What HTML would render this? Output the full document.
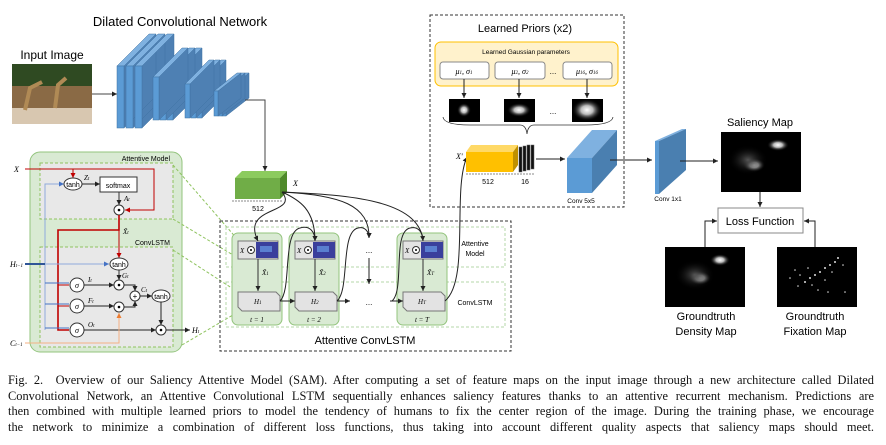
<!DOCTYPE html>
<html><head><meta charset="utf-8"><style>
body{margin:0;background:#fff;width:886px;height:445px;overflow:hidden}
svg{display:block}
.s{font-family:"Liberation Sans","DejaVu Sans",sans-serif}
.i{font-family:"Liberation Serif",serif;font-style:italic}
.cap{position:absolute;left:8px;top:373px;width:866px;font-family:"Liberation Serif",serif;font-size:12.4px;line-height:15.6px;text-align:justify;text-align-last:justify;color:#111}
.cap div{white-space:nowrap}
</style></head><body>
<svg width="886" height="445" viewBox="0 0 886 445">
<defs>
<marker id="a" markerWidth="6" markerHeight="6" refX="5" refY="3" orient="auto"><path d="M0,0.5 L5,3 L0,5.5z" fill="#222"/></marker>
<marker id="ar" markerWidth="6" markerHeight="6" refX="5" refY="3" orient="auto"><path d="M0,0.5 L5,3 L0,5.5z" fill="#c00000"/></marker>
<marker id="ab" markerWidth="6" markerHeight="6" refX="5" refY="3" orient="auto"><path d="M0,0.5 L5,3 L0,5.5z" fill="#4472c4"/></marker>
<marker id="ao" markerWidth="6" markerHeight="6" refX="5" refY="3" orient="auto"><path d="M0,0.5 L5,3 L0,5.5z" fill="#ed7d31"/></marker>
<radialGradient id="g"><stop offset="0" stop-color="#fff"/><stop offset="0.4" stop-color="#bbb"/><stop offset="1" stop-color="#000" stop-opacity="0"/></radialGradient>
<radialGradient id="g2"><stop offset="0" stop-color="#555"/><stop offset="1" stop-color="#000" stop-opacity="0"/></radialGradient>
</defs>

<!-- top left -->
<text x="180" y="26" class="s" font-size="13" text-anchor="middle">Dilated Convolutional Network</text>
<text x="52" y="59" class="s" font-size="12" text-anchor="middle">Input Image</text>
<rect x="12" y="64" width="80" height="60" fill="#6b6a45"/>
<rect x="12" y="64" width="80" height="22" fill="#2f4a22"/>
<rect x="12" y="86" width="80" height="22" fill="#8a6a45"/>
<rect x="12" y="108" width="80" height="16" fill="#d8c7b0"/>
<path d="M25,110 L30,88 L42,82 M55,108 L58,85 L66,78" stroke="#b08a55" stroke-width="4" fill="none"/>
<line x1="92" y1="94" x2="117" y2="94" stroke="#444" marker-end="url(#a)"/>

<g stroke="#3f72a3" stroke-width="0.5">
<g fill="#4e80b3"><polygon points="142,66 174,34 174,96 142,128"/><polygon points="133,66 165,34 165,96 133,128"/><polygon points="124,66 156,34 156,96 124,128"/></g>
<polygon points="135,66 142,66 174,34 167,34" fill="#7fb1e0"/><rect x="135" y="66" width="7" height="62" fill="#5b9bd5"/>
<polygon points="126,66 133,66 165,34 158,34" fill="#7fb1e0"/><rect x="126" y="66" width="7" height="62" fill="#5b9bd5"/>
<polygon points="117,66 124,66 156,34 149,34" fill="#7fb1e0"/><rect x="117" y="66" width="7" height="62" fill="#5b9bd5"/>
<g fill="#4e80b3"><polygon points="173,77 202,48 202,91 173,120"/></g>
<polygon points="167,77 173,77 202,48 196,48" fill="#7fb1e0"/><rect x="167" y="77" width="6" height="43" fill="#5b9bd5"/>
<polygon points="166,77 195,48 195,91 166,120" fill="#4e80b3"/>
<polygon points="160,77 166,77 195,48 189,48" fill="#7fb1e0"/><rect x="160" y="77" width="6" height="43" fill="#5b9bd5"/>
<polygon points="159,77 188,48 188,91 159,120" fill="#4e80b3"/>
<polygon points="153,77 159,77 188,48 182,48" fill="#7fb1e0"/><rect x="153" y="77" width="6" height="43" fill="#5b9bd5"/>
<polygon points="202,84 226,60 226,94 202,118" fill="#4e80b3"/>
<polygon points="197,84 202,84 226,60 221,60" fill="#7fb1e0"/><rect x="197" y="84" width="5" height="34" fill="#5b9bd5"/>
<polygon points="196,84 220,60 220,94 196,118" fill="#4e80b3"/>
<polygon points="191,84 196,84 220,60 215,60" fill="#7fb1e0"/><rect x="191" y="84" width="5" height="34" fill="#5b9bd5"/>
<polygon points="190,84 214,60 214,94 190,118" fill="#4e80b3"/>
<polygon points="185,84 190,84 214,60 209,60" fill="#7fb1e0"/><rect x="185" y="84" width="5" height="34" fill="#5b9bd5"/>
<polygon points="226,91 249,73 249,98 226,116" fill="#4e80b3"/>
<polygon points="222,91 226,91 249,73 245,73" fill="#7fb1e0"/><rect x="222" y="91" width="4" height="25" fill="#5b9bd5"/>
<polygon points="222,91 245,73 245,98 222,116" fill="#4e80b3"/>
<polygon points="218,91 222,91 245,73 241,73" fill="#7fb1e0"/><rect x="218" y="91" width="4" height="25" fill="#5b9bd5"/>
<polygon points="218,91 241,73 241,98 218,116" fill="#4e80b3"/>
<polygon points="214,91 218,91 241,73 237,73" fill="#7fb1e0"/><rect x="214" y="91" width="4" height="25" fill="#5b9bd5"/>
</g>
<polyline points="245,100 265,100 265,171" fill="none" stroke="#444" marker-end="url(#a)"/>

<!-- green feature box -->
<polygon points="235,178 242,171 287,171 280,178" fill="#8ccb5e"/>
<polygon points="280,178 287,171 287,192 280,199" fill="#4f8a2a"/>
<rect x="235" y="178" width="45" height="21" fill="#70ad47"/>
<line x1="232" y1="201" x2="283" y2="201" stroke="#888" stroke-dasharray="2,1"/>
<text x="258" y="211" class="s" font-size="7" text-anchor="middle">512</text>
<text x="293" y="186" class="i" font-size="8">X</text>

<!-- left panel -->
<rect x="30" y="152" width="152" height="200" rx="10" fill="#d9ead3" stroke="#93c47d"/>
<rect x="40" y="163" width="133" height="56" fill="#e8e8e8" stroke="#8fc35f" stroke-dasharray="3,2"/>
<rect x="40" y="247" width="133" height="100" fill="#e8e8e8" stroke="#8fc35f" stroke-dasharray="3,2"/>
<text x="170" y="161" class="s" font-size="7" text-anchor="end">Attentive Model</text>
<text x="170" y="245" class="s" font-size="7" text-anchor="end">ConvLSTM</text>
<g stroke="#8fc35f" stroke-dasharray="3,2" fill="none">
<line x1="173" y1="165" x2="238" y2="240"/><line x1="173" y1="219" x2="238" y2="258"/>
<line x1="173" y1="250" x2="238" y2="292"/><line x1="182" y1="345" x2="238" y2="312"/>
</g>
<text x="14" y="172" class="i" font-size="8">X</text>
<polyline points="25,169 154,169 154,210 125,210" fill="none" stroke="#c00000" marker-end="url(#ar)"/>
<line x1="73" y1="169" x2="73" y2="178" stroke="#c00000" marker-end="url(#ar)"/>
<polyline points="45,330 45,184 64,184" fill="none" stroke="#8faadc" marker-end="url(#ab)"/>
<ellipse cx="73" cy="184" rx="9" ry="6" fill="#fff" stroke="#333"/><text x="73" y="187" class="s" font-size="7" text-anchor="middle">tanh</text>
<line x1="82" y1="184" x2="100" y2="184" stroke="#222" marker-end="url(#a)"/>
<text x="84" y="180" class="i" font-size="7">Z<tspan font-size="5">t</tspan></text>
<rect x="100" y="177" width="37" height="15" fill="#fff" stroke="#333"/><text x="118" y="188" class="s" font-size="7" text-anchor="middle">softmax</text>
<line x1="119" y1="192" x2="119" y2="205" stroke="#333" marker-end="url(#a)"/>
<text x="124" y="201" class="i" font-size="7">A<tspan font-size="5">t</tspan></text>
<circle cx="119" cy="210" r="5" fill="#fff" stroke="#333"/><circle cx="119" cy="210" r="1.3" fill="#000"/>
<polyline points="119,215 119,230 58,230 58,330 69,330" fill="none" stroke="#c00000" stroke-width="1.6"/>
<line x1="119" y1="230" x2="119" y2="258" stroke="#c00000" marker-end="url(#ar)"/>
<polyline points="58,285 69,285" stroke="#c00000" fill="none"/><polyline points="58,306 69,306" stroke="#c00000" fill="none"/>
<text x="123" y="234" class="i" font-size="7">X̃<tspan font-size="5">t</tspan></text>
<text x="10" y="267" class="i" font-size="8">H<tspan font-size="5">t−1</tspan></text>
<line x1="25" y1="264" x2="45" y2="264" stroke="#2f5597" stroke-width="2"/>
<line x1="45" y1="264" x2="109" y2="264" stroke="#8faadc" marker-end="url(#ab)"/>
<polyline points="45,283 69,283" stroke="#4472c4" fill="none"/><polyline points="45,304 69,304" stroke="#4472c4" fill="none"/><polyline points="45,328 69,328" stroke="#4472c4" fill="none"/>
<ellipse cx="119" cy="264" rx="9" ry="6" fill="#fff" stroke="#333"/><text x="119" y="267" class="s" font-size="7" text-anchor="middle">tanh</text>
<line x1="119" y1="270" x2="119" y2="280" stroke="#333" marker-end="url(#a)"/>
<text x="122" y="278" class="i" font-size="7">G<tspan font-size="5">t</tspan></text>
<g fill="#fff" stroke="#333">
<circle cx="77" cy="285" r="7"/><circle cx="77" cy="306" r="7"/><circle cx="77" cy="330" r="7"/>
<circle cx="119" cy="285" r="5"/><circle cx="119" cy="307" r="5"/><circle cx="135" cy="296" r="5"/><circle cx="161" cy="330" r="5"/>
<ellipse cx="161" cy="296" rx="9" ry="6"/></g>
<g class="i" font-size="8" text-anchor="middle"><text x="77" y="288">σ</text><text x="77" y="309">σ</text><text x="77" y="333">σ</text></g>
<g fill="#000"><circle cx="119" cy="285" r="1.3"/><circle cx="119" cy="307" r="1.3"/><circle cx="161" cy="330" r="1.3"/></g>
<text x="135" y="299" class="s" font-size="8" text-anchor="middle">+</text>
<text x="161" y="299" class="s" font-size="7" text-anchor="middle">tanh</text>
<g stroke="#222" fill="none">
<line x1="84" y1="285" x2="114" y2="285" marker-end="url(#a)"/>
<line x1="84" y1="306" x2="114" y2="306" marker-end="url(#a)"/>
<line x1="84" y1="330" x2="156" y2="330" marker-end="url(#a)"/>
<polyline points="124,285 135,285 135,291" marker-end="url(#a)"/>
<polyline points="124,307 135,307 135,301" marker-end="url(#a)"/>
<line x1="140" y1="296" x2="152" y2="296" marker-end="url(#a)"/>
<line x1="161" y1="302" x2="161" y2="325" marker-end="url(#a)"/>
<line x1="166" y1="330" x2="190" y2="330" marker-end="url(#a)"/>
</g>
<g class="i" font-size="7"><text x="88" y="282">I<tspan font-size="5">t</tspan></text><text x="88" y="303">F<tspan font-size="5">t</tspan></text><text x="88" y="327">O<tspan font-size="5">t</tspan></text><text x="141" y="292">C<tspan font-size="5">t</tspan></text></g>
<text x="192" y="333" class="i" font-size="8">H<tspan font-size="5">t</tspan></text>
<text x="10" y="346" class="i" font-size="8">C<tspan font-size="5">t−1</tspan></text>
<polyline points="25,343 119,343 119,313" fill="none" stroke="#f4b183" marker-end="url(#ao)"/>

<!-- attentive convlstm -->
<rect x="220" y="221" width="291" height="130" fill="none" stroke="#333" stroke-dasharray="3,2"/>
<rect x="226" y="227" width="279" height="40" fill="none" stroke="#b6d7a8" stroke-dasharray="3,2"/>
<rect x="226" y="282" width="279" height="45" fill="none" stroke="#b6d7a8" stroke-dasharray="3,2"/>
<g fill="#d9ead3" stroke="#93c47d"><rect x="232" y="233" width="50" height="92" rx="6"/><rect x="289" y="233" width="50" height="92" rx="6"/><rect x="397" y="233" width="50" height="92" rx="6"/></g>
<g id="col">
<rect x="238" y="241" width="40" height="18" fill="#e3e3e3" stroke="#777"/>
<text x="240" y="253" class="i" font-size="7">X</text><circle cx="251" cy="250" r="3.5" fill="#fff" stroke="#333"/><circle cx="251" cy="250" r="1" fill="#000"/>
<rect x="256" y="242" width="22" height="16" fill="#3a3f9c"/><rect x="260" y="246" width="12" height="6" fill="#5a7fd0"/>
<line x1="258" y1="259" x2="258" y2="291" stroke="#333" marker-end="url(#a)"/>
<path d="M238,292 H276 L280,296 V311 H242 L238,307Z" fill="#e3e3e3" stroke="#777"/>
</g>
<use href="#col" x="57"/><use href="#col" x="165"/>
<g class="i" font-size="7">
<text x="262" y="275">X̃<tspan font-size="5">1</tspan></text><text x="319" y="275">X̃<tspan font-size="5">2</tspan></text><text x="427" y="275">X̃<tspan font-size="5">T</tspan></text>
<text x="254" y="304">H<tspan font-size="5">1</tspan></text><text x="311" y="304">H<tspan font-size="5">2</tspan></text><text x="418" y="304">H<tspan font-size="5">T</tspan></text>
<text x="257" y="322" text-anchor="middle">t = 1</text><text x="314" y="322" text-anchor="middle">t = 2</text><text x="422" y="322" text-anchor="middle">t = T</text>
</g>
<text x="369" y="253" class="s" font-size="8" text-anchor="middle">...</text>
<text x="369" y="305" class="s" font-size="8" text-anchor="middle">...</text>
<line x1="369" y1="258" x2="369" y2="284" stroke="#222" marker-end="url(#a)"/>
<text x="475" y="246" class="s" font-size="7" text-anchor="middle">Attentive</text>
<text x="475" y="256" class="s" font-size="7" text-anchor="middle">Model</text>
<text x="475" y="305" class="s" font-size="7" text-anchor="middle">ConvLSTM</text>
<text x="365" y="344" class="s" font-size="11" text-anchor="middle">Attentive ConvLSTM</text>
<g stroke="#222" fill="none">
<path d="M282,192 C300,215 240,205 258,241" marker-end="url(#a)"/>
<path d="M282,192 C300,200 315,210 315,241" marker-end="url(#a)"/>
<path d="M282,192 C340,195 370,205 369,238" marker-end="url(#a)"/>
<path d="M282,192 C350,195 420,200 423,241" marker-end="url(#a)"/>
<path d="M280,301 C292,290 282,232 300,228 C310,225 315,232 315,241" marker-end="url(#a)"/>
<line x1="280" y1="301" x2="295" y2="301" marker-end="url(#a)"/>
<path d="M337,301 C350,290 340,232 358,228 C365,226 369,232 369,238" marker-end="url(#a)"/>
<line x1="337" y1="301" x2="350" y2="301" marker-end="url(#a)"/>
<path d="M392,301 C405,290 392,232 410,228 C418,226 423,232 423,241"/>
<line x1="390" y1="301" x2="403" y2="301" marker-end="url(#a)"/>
<path d="M445,301 C470,280 452,190 467,157" marker-end="url(#a)"/>
</g>

<!-- learned priors -->
<rect x="430" y="15" width="194" height="192" fill="none" stroke="#333" stroke-dasharray="3,2"/>
<text x="525" y="32" class="s" font-size="11" text-anchor="middle">Learned Priors (x2)</text>
<rect x="435" y="42" width="183" height="44" rx="6" fill="#fff2cc" stroke="#ffc000"/>
<text x="526" y="54" class="s" font-size="6.5" text-anchor="middle">Learned Gaussian parameters</text>
<g fill="#fff" stroke="#888"><rect x="440" y="62" width="49" height="17" rx="3"/><rect x="495" y="62" width="50" height="17" rx="3"/><rect x="563" y="62" width="49" height="17" rx="3"/></g>
<g class="i" font-size="8" text-anchor="middle"><text x="464" y="74">μ<tspan font-size="5">1</tspan>, σ<tspan font-size="5">1</tspan></text><text x="520" y="74">μ<tspan font-size="5">2</tspan>, σ<tspan font-size="5">2</tspan></text><text x="587" y="74">μ<tspan font-size="5">16</tspan>, σ<tspan font-size="5">16</tspan></text></g>
<text x="553" y="74" class="s" font-size="8" text-anchor="middle">...</text>
<g stroke="#222"><line x1="464" y1="79" x2="464" y2="98" marker-end="url(#a)"/><line x1="519" y1="79" x2="519" y2="98" marker-end="url(#a)"/><line x1="587" y1="79" x2="587" y2="98" marker-end="url(#a)"/></g>
<rect x="449" y="99" width="31" height="23" fill="#000"/><ellipse cx="464" cy="110" rx="7" ry="7" fill="url(#g)"/>
<rect x="504" y="99" width="31" height="23" fill="#000"/><ellipse cx="519" cy="110" rx="12" ry="7" fill="url(#g)"/>
<rect x="572" y="99" width="31" height="23" fill="#000"/><ellipse cx="587" cy="110" rx="15" ry="11" fill="url(#g)"/>
<text x="553" y="114" class="s" font-size="8" text-anchor="middle">...</text>
<path d="M443,117 Q444,125 470,125 L520,125 Q526,125 527,134 Q528,125 534,125 L585,125 Q612,125 613,117" fill="none" stroke="#333" stroke-width="0.8"/>
<polygon points="466,152 471,145 518,145 513,152" fill="#ffd966"/>
<polygon points="513,152 518,145 518,165 513,172" fill="#bf9000"/>
<rect x="466" y="152" width="47" height="20" fill="#ffc000"/>
<g fill="#111" stroke="#666" stroke-width="0.5"><rect x="519" y="147" width="3" height="25"/><rect x="523" y="146" width="3" height="25"/><rect x="527" y="145" width="3" height="25"/><rect x="531" y="145" width="3" height="24"/></g>
<text x="456" y="159" class="i" font-size="8">X'</text>
<line x1="466" y1="174" x2="535" y2="174" stroke="#888" stroke-dasharray="2,1"/>
<text x="488" y="184" class="s" font-size="7" text-anchor="middle">512</text><text x="525" y="184" class="s" font-size="7" text-anchor="middle">16</text>
<line x1="536" y1="159" x2="565" y2="159" stroke="#222" marker-end="url(#a)"/>
<polygon points="567,158 592,130 617,130 592,158" fill="#7fb1e0"/>
<polygon points="592,158 617,130 617,165 592,193" fill="#4a7fb0"/>
<rect x="567" y="158" width="25" height="35" fill="#5b9bd5"/>
<text x="581" y="203" class="s" font-size="6.5" text-anchor="middle">Conv 5x5</text>
<line x1="610" y1="160" x2="652" y2="160" stroke="#222" marker-end="url(#a)"/>
<polygon points="655,141 682,129 686,129 659,141" fill="#7fb1e0"/>
<polygon points="659,141 686,129 686,170 659,194" fill="#4a7fb0"/>
<rect x="655" y="141" width="4" height="53" fill="#5b9bd5"/>
<text x="668" y="201" class="s" font-size="6.5" text-anchor="middle">Conv 1x1</text>
<line x1="680" y1="161" x2="718" y2="161" stroke="#222" marker-end="url(#a)"/>

<!-- right -->
<text x="760" y="126" class="s" font-size="11" text-anchor="middle">Saliency Map</text>
<rect x="721" y="132" width="80" height="60" fill="#000"/>
<ellipse cx="778" cy="145" rx="11" ry="6" fill="url(#g)"/><ellipse cx="754" cy="165" rx="11" ry="7" fill="url(#g)"/><ellipse cx="748" cy="160" rx="20" ry="15" fill="url(#g2)"/>
<line x1="760" y1="192" x2="760" y2="207" stroke="#222" marker-end="url(#a)"/>
<rect x="718" y="208" width="85" height="25" fill="#fff" stroke="#888"/>
<text x="760" y="225" class="s" font-size="11" text-anchor="middle">Loss Function</text>
<rect x="665" y="247" width="80" height="60" fill="#000"/>
<ellipse cx="720" cy="260" rx="10" ry="6" fill="url(#g)"/><ellipse cx="700" cy="278" rx="11" ry="7" fill="url(#g)"/><ellipse cx="695" cy="275" rx="20" ry="15" fill="url(#g2)"/>
<rect x="777" y="247" width="80" height="60" fill="#000"/>
<g fill="#ddd"><circle cx="810" cy="278" r="1"/><circle cx="815" cy="275" r="1"/><circle cx="820" cy="272" r="1"/><circle cx="825" cy="268" r="1"/><circle cx="830" cy="265" r="1"/><circle cx="835" cy="262" r="1"/><circle cx="838" cy="258" r="1"/><circle cx="805" cy="282" r="1"/><circle cx="800" cy="275" r="0.8"/><circle cx="795" cy="270" r="0.8"/><circle cx="812" cy="285" r="0.8"/><circle cx="825" cy="280" r="0.8"/><circle cx="790" cy="278" r="0.8"/><circle cx="843" cy="265" r="0.8"/><circle cx="818" cy="290" r="0.8"/><circle cx="808" cy="268" r="0.8"/><circle cx="832" cy="272" r="0.8"/><circle cx="798" cy="286" r="0.8"/><circle cx="828" cy="292" r="0.8"/><circle cx="845" cy="292" r="0.8"/></g>
<polyline points="705,247 705,221 717,221" fill="none" stroke="#222" marker-end="url(#a)"/>
<polyline points="815,247 815,221 804,221" fill="none" stroke="#222" marker-end="url(#a)"/>
<g class="s" font-size="11" text-anchor="middle"><text x="706" y="320">Groundtruth</text><text x="706" y="335">Density Map</text><text x="815" y="320">Groundtruth</text><text x="815" y="335">Fixation Map</text></g>
</svg>
<div class="cap">
<div>Fig. 2.&nbsp; Overview of our Saliency Attentive Model (SAM). After computing a set of feature maps on the input image through a new architecture called Dilated</div>
<div>Convolutional Network, an Attentive Convolutional LSTM sequentially enhances saliency features thanks to an attentive recurrent mechanism. Predictions are</div>
<div>then combined with multiple learned priors to model the tendency of humans to fix the center region of the image. During the training phase, we encourage</div>
<div>the network to minimize a combination of different loss functions, thus taking into account different quality aspects that saliency maps should meet.</div>
</div>
</body></html>
